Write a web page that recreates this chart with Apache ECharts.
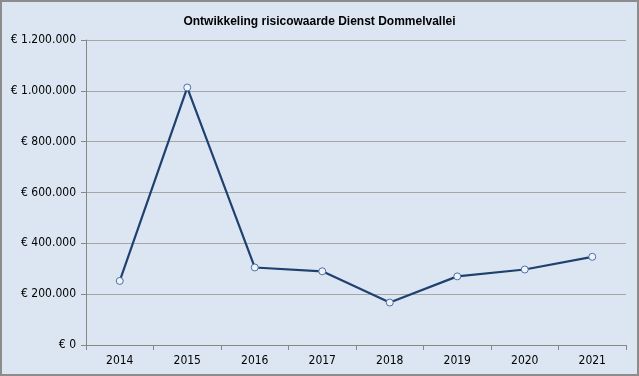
<!DOCTYPE html>
<html>
<head>
<meta charset="utf-8">
<script src="https://cdn.jsdelivr.net/npm/echarts@6/dist/echarts.min.js"></script>
<style>
  html, body { margin: 0; padding: 0; }
  #chart { width: 639px; height: 376px; box-sizing: border-box; border: 2px solid #8c8c8c; background: #dce6f2; }
</style>
</head>
<body>
<div id="chart"></div>
<script>
const years = ['2014', '2015', '2016', '2017', '2018', '2019', '2020', '2021']
const risicowaarde = [252000, 1013000, 305000, 290000, 167000, 270000, 297000, 347000]

const chart = echarts.init(document.getElementById('chart'))

function euro(v) {
  // Dutch notation: thousands separated by dots
  return '€ ' + String(v).replace(/\B(?=(\d{3})+(?!\d))/g, '.')
}

const option = {
  animation: false,
  title: {
    text: 'Ontwikkeling risicowaarde Dienst Dommelvallei',
    left: 'center',
    top: 9,
    textStyle: {
      fontFamily: 'Liberation Sans',
      fontSize: 12,
      fontWeight: 'bold',
      color: '#000'
    }
  },
  grid: {
    left: 84,
    right: 11,
    top: 38,
    bottom: 29
  },
  xAxis: {
    type: 'category',
    data: years,
    axisLine: { lineStyle: { color: '#868686' } },
    axisTick: { show: true, length: 5, lineStyle: { color: '#868686' } },
    axisLabel: { color: '#000', fontSize: 12, fontFamily: 'DejaVu Sans Condensed', margin: 10 }
  },
  yAxis: {
    type: 'value',
    min: 0,
    max: 1200000,
    interval: 200000,
    axisLine: { show: true, lineStyle: { color: '#868686' } },
    axisTick: { show: true, length: 5, lineStyle: { color: '#868686' } },
    splitLine: { lineStyle: { color: '#a6a6a6' } },
    axisLabel: {
      color: '#000',
      fontSize: 12,
      fontFamily: 'DejaVu Sans Condensed',
      margin: 10,
      formatter: euro
    }
  },
  series: [
    {
      type: 'line',
      data: risicowaarde,
      symbol: 'circle',
      symbolSize: 7,
      lineStyle: { color: '#1f4170', width: 2.2 },
      itemStyle: { color: '#eef3fa', borderColor: '#4a6fa5', borderWidth: 1 }
    }
  ]
}

chart.setOption(option)
</script>
</body>
</html>
